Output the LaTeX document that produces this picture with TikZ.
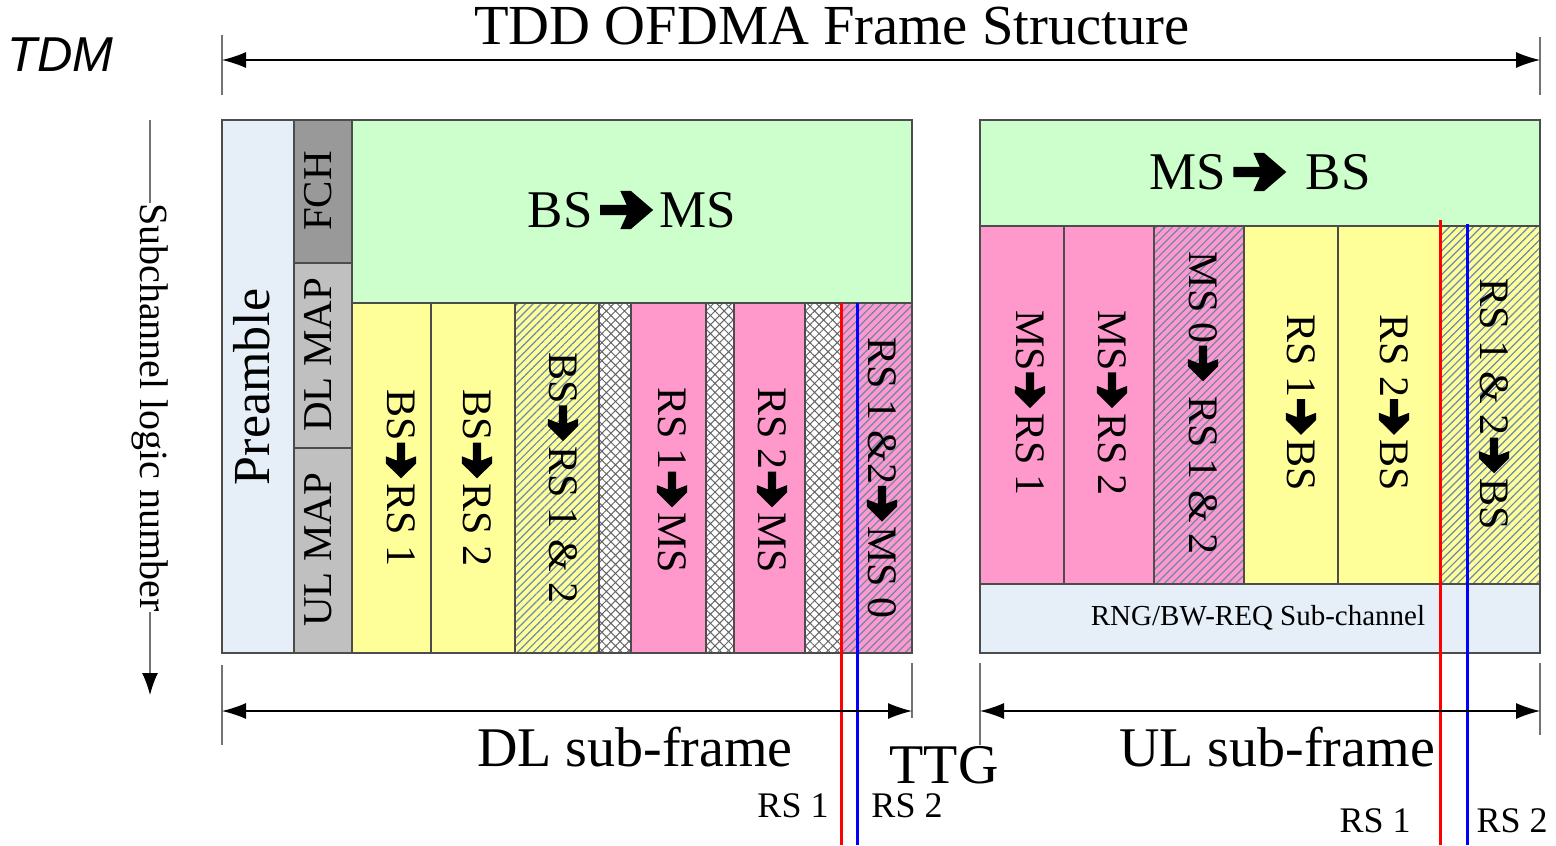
\documentclass[tikz,border=0pt]{standalone}
\usepackage{fontspec}
\setmainfont{Liberation Serif}
\newfontfamily\tdmfont{Liberation Sans}
\usetikzlibrary{arrows.meta, patterns.meta}
\definecolor{preblue}{RGB}{230,238,248}
\definecolor{fchgray}{RGB}{153,153,153}
\definecolor{mapgray}{RGB}{192,192,192}
\definecolor{bsgreen}{RGB}{204,255,204}
\definecolor{rsyellow}{RGB}{255,255,153}
\definecolor{mspink}{RGB}{255,153,204}
\definecolor{hatchblue}{RGB}{105,135,175}
\newsavebox{\arrbox}
\newcommand{\harr}[1][0.85em]{\kern0.04em\raisebox{-0.03em}{\resizebox{#1}{0.72em}{\usebox{\arrbox}}}\kern0.12em}
\newcommand{\fs}[1]{\fontsize{#1}{#1}\selectfont}
\tikzset{>={Latex[length=12pt,width=8pt]}}
\tikzset{
  cell/.style={draw=black!70, line width=0.6pt},
  hatched/.style={pattern={Lines[angle=45,distance=2.8pt,line width=0.6pt]}, pattern color=hatchblue},
  crossed/.style={pattern={Hatch[angle=45,distance=3.2pt,line width=0.5pt]}, pattern color=black!60},
  vtext/.style={rotate=-90, inner sep=0, font=\fs{21}},
  ttext/.style={rotate=90, inner sep=0, font=\fs{20.5}},
  lbl/.style={anchor=base, inner sep=0},
  dim/.style={<->, line width=0.6pt},
  tick/.style={draw=black!55, line width=0.6pt},
  rsone/.style={draw=red, line width=1.5pt},
  rstwo/.style={draw=blue, line width=1.5pt},
}

\begin{document}
\sbox{\arrbox}{\begin{pgfpicture}
	\pgfpathmoveto{\pgfpoint{0pt}{3.65pt}}
	\pgfpathlineto{\pgfpoint{5pt}{3.65pt}}
	\pgfpathlineto{\pgfpoint{3.8pt}{0pt}}
	\pgfpathlineto{\pgfpoint{5.8pt}{0pt}}
	\pgfpathlineto{\pgfpoint{10pt}{5pt}}
	\pgfpathlineto{\pgfpoint{5.8pt}{10pt}}
	\pgfpathlineto{\pgfpoint{3.8pt}{10pt}}
	\pgfpathlineto{\pgfpoint{5pt}{6.35pt}}
	\pgfpathlineto{\pgfpoint{0pt}{6.35pt}}
	\pgfpathclose
	\pgfusepath{fill}
\end{pgfpicture}}%
\begin{tikzpicture}[x=0.5pt,y=-0.5pt]
	\useasboundingbox (0,0) rectangle (1556,845);

	\node[anchor=base west, inner sep=0, font=\tdmfont\itshape\fs{24.5}] (tdm) at (7,72) {TDM};

	% the DL sub-frame
	\draw[cell, fill=preblue] (222,120) rectangle (294,653);
	\draw[cell, fill=fchgray] (294,120) rectangle (352,263);
	\draw[cell, fill=mapgray] (294,263) rectangle (352,448);
	\draw[cell, fill=mapgray] (294,448) rectangle (352,653);
	\draw[cell, fill=bsgreen] (352,120) rectangle (912,303);
	\draw[cell, fill=rsyellow] (352,303) rectangle (431,653);
	\draw[cell, fill=rsyellow] (431,303) rectangle (515,653);
	\draw[cell, preaction={fill=rsyellow}, hatched] (515,303) rectangle (599,653);
	\draw[cell, preaction={fill=white}, crossed] (599,303) rectangle (631,653);
	\draw[cell, fill=mspink] (631,303) rectangle (706,653);
	\draw[cell, preaction={fill=white}, crossed] (706,303) rectangle (734,653);
	\draw[cell, fill=mspink] (734,303) rectangle (805,653);
	\draw[cell, preaction={fill=white}, crossed] (805,303) rectangle (841,653);
	\draw[cell, preaction={fill=mspink}, hatched] (841,303) rectangle (912,653);

	\node[rotate=90, inner sep=0, font=\fs{26}] (pre) at (252,387) {Preamble};
	\node[ttext] (fch) at (318,191) {FCH};
	\node[ttext] (dlmap) at (318,355) {DL MAP};
	\node[ttext] (ulmap) at (318,550) {UL MAP};
	\node[font=\fs{26.5}] (bsms) at (632,210) {BS\kern0.1em\harr[1.0em]MS};
	\node[vtext] (bsrs1) at (401,478) {BS\harr RS 1};
	\node[vtext] (bsrs2) at (477,478) {BS\harr RS 2};
	\node[vtext] (bsrs12) at (563,478) {BS\harr RS 1 \& 2};
	\node[vtext] (rs1ms) at (672,480) {RS 1\harr MS};
	\node[vtext] (rs2ms) at (772,480) {RS 2\harr MS};
	\node[vtext] (rs12ms) at (882,478) {RS 1 \&2\harr MS 0};

	% the UL sub-frame
	\draw[cell, fill=bsgreen] (980,120) rectangle (1540,226);
	\draw[cell, fill=mspink] (980,226) rectangle (1064,584);
	\draw[cell, fill=mspink] (1064,226) rectangle (1154,584);
	\draw[cell, preaction={fill=mspink}, hatched] (1154,226) rectangle (1244,584);
	\draw[cell, fill=rsyellow] (1244,226) rectangle (1338,584);
	\draw[cell, fill=rsyellow] (1338,226) rectangle (1440,584);
	\draw[cell, preaction={fill=rsyellow}, hatched] (1440,226) rectangle (1540,584);
	\draw[cell, fill=preblue] (980,584) rectangle (1540,653);

	\node[font=\fs{26.5}] (msbs) at (1260,172) {MS\kern0.1em\harr[1.0em]{} BS};
	\node[vtext] (msrs1) at (1030,403) {MS\harr RS 1};
	\node[vtext] (msrs2) at (1112,403) {MS\harr RS 2};
	\node[vtext] (ms0rs) at (1203,403) {MS 0\harr{} RS 1 \& 2};
	\node[vtext] (rs1bs) at (1301,403) {RS 1\harr BS};
	\node[vtext] (rs2bs) at (1394,403) {RS 2\harr BS};
	\node[vtext] (rs12bs) at (1494,404) {RS 1 \& 2\harr BS};
	\node[font=\fs{14.5}] (rng) at (1258,618) {RNG/BW-REQ Sub-channel};

	% the relay lines
	\coordinate (dlrsa) at (841,303);
	\coordinate (dlrsb) at (857,303);
	\coordinate (ulrsa) at (1440,220);
	\coordinate (ulrsb) at (1467,224);
	\draw[rsone] (dlrsa) -- (dlrsa |- 0,845);
	\draw[rstwo] (dlrsb) -- (dlrsb |- 0,845);
	\draw[rsone] (ulrsa) -- (ulrsa |- 0,845);
	\draw[rstwo] (ulrsb) -- (ulrsb |- 0,845);
	\node[lbl, font=\fs{18}] (dlrsalbl) at (793,817) {RS 1};
	\node[lbl, font=\fs{18}] (dlrsblbl) at (907,817) {RS 2};
	\node[lbl, font=\fs{18}] (ulrsalbl) at (1375,832) {RS 1};
	\node[lbl, font=\fs{18}] (ulrsblbl) at (1512,832) {RS 2};

	% the dimension arrows
	\coordinate (fl) at (222,60);
	\coordinate (fr) at (1540,60);
	\draw[tick] (222,35) -- (222,95);
	\draw[tick] (1540,37) -- (1540,95);
	\draw[dim] (fl) -- (fr);
	\node[lbl, font=\fs{28.3}] (title) at (832,45) {TDD OFDMA Frame Structure};

	\coordinate (dll) at (222,711);
	\coordinate (dlr) at (912,711);
	\draw[tick] (222,665) -- (222,745);
	\draw[tick] (912,663) -- (912,718);
	\draw[dim] (dll) -- (dlr);
	\node[lbl, font=\fs{28}] (dlsub) at (635,766) {DL sub-frame};

	\coordinate (ull) at (980,711);
	\coordinate (ulr) at (1540,711);
	\draw[tick] (980,663) -- (980,745);
	\draw[tick] (1540,663) -- (1540,735);
	\draw[dim] (ull) -- (ulr);
	\node[lbl, font=\fs{28}] (ulsub) at (1277,766) {UL sub-frame};
	\node[lbl, font=\fs{28}] (ttg) at (944,783) {TTG};

	% the subchannel axis
	\coordinate (axtop) at (150,120);
	\coordinate (axbot) at (150,695);
	\draw[tick, -{Latex[length=11pt,width=8pt,black]}] (axtop) -- (axbot)
		node[midway, rotate=-90, fill=white, inner sep=0, font=\fs{20}] (subch) {Subchannel logic number};

\end{tikzpicture}
\end{document}
